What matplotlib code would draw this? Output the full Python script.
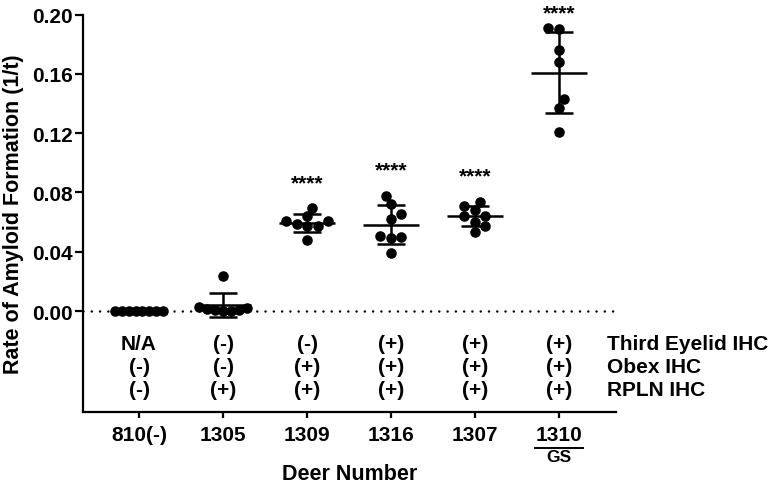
import numpy as np
import matplotlib
matplotlib.use("Agg")
import matplotlib.pyplot as plt
from matplotlib.transforms import blended_transform_factory

plt.rcParams["font.family"] = ["Liberation Sans", "DejaVu Sans"]
plt.rcParams["font.weight"] = "bold"

# data
deer = ["810(-)", "1305", "1309", "1316", "1307", "1310"]
rate_810 = [0, 0, 0, 0, 0, 0, 0, 0]
rate_1305 = [0.0, 0.001, 0.0015, 0.002, 0.0, 0.001, 0.0025, 0.0236]
rate_1309 = [0.0695, 0.0576, 0.0607, 0.0587, 0.0607, 0.0641, 0.0574, 0.0479]
rate_1316 = [0.0778, 0.0722, 0.0655, 0.0621, 0.0508, 0.0493, 0.0499, 0.0389]
rate_1307 = [0.0738, 0.0711, 0.0684, 0.0643, 0.0643, 0.0603, 0.0576, 0.0531]
rate_1310 = [0.190, 0.191, 0.176, 0.168, 0.143, 0.137, 0.121]
groups = [rate_810, rate_1305, rate_1309, rate_1316, rate_1307, rate_1310]
signif = ["", "", "****", "****", "****", "****"]

row_names = ["Third Eyelid IHC", "Obex IHC", "RPLN IHC"]
third_eyelid = ["N/A", "(-)", "(-)", "(+)", "(+)", "(+)"]
obex = ["(-)", "(-)", "(+)", "(+)", "(+)", "(+)"]
rpln = ["(-)", "(+)", "(+)", "(+)", "(+)", "(+)"]
rows = [third_eyelid, obex, rpln]
row_y = [-0.022, -0.0375, -0.0525]

yticks = [0.00, 0.04, 0.08, 0.12, 0.16, 0.20]

W, H = 774, 489
fig = plt.figure(figsize=(W / 100, H / 100), dpi=100)
ax_l, ax_r, ax_t, ax_b = 83, 616, 15.5, 413
ax = fig.add_axes([ax_l / W, 1 - ax_b / H, (ax_r - ax_l) / W, (ax_b - ax_t) / H])
ymin, ymax = -0.068, 0.20
xmin, xmax = -0.667, 5.679
ax.set_xlim(xmin, xmax)
ax.set_ylim(ymin, ymax)

px_per_y = (ax_b - ax_t) / (ymax - ymin)
px_per_x = (ax_r - ax_l) / (xmax - xmin)
dot = 10.5  # marker diameter in px


def swarm(vals, limit=24.0):
    # greedy beeswarm in pixel space, lowest values first
    order = np.argsort(vals, kind="stable")
    ypx = np.array(vals) * px_per_y
    placed = []
    offs = np.zeros(len(vals))
    md = dot * 0.85
    for i in order:
        for k in range(0, 40):
            if k == 0:
                cands = [0.0]
            else:
                side = -1 if sum(p[0] for p in placed) > 0 else 1
                cands = [side * k * dot / 2, -side * k * dot / 2]
            ok = None
            for c in cands:
                if all(np.hypot(c - px, ypx[i] - py) >= md for px, py in placed):
                    ok = c
                    break
            if ok is not None:
                offs[i] = ok
                placed.append((ok, ypx[i]))
                break
    if np.abs(offs).max() > limit:
        offs = offs - (offs.min() + offs.max()) / 2
        offs = offs * limit / np.abs(offs).max()
    return offs / px_per_x


for i, vals in enumerate(groups):
    vals = np.array(vals, dtype=float)
    xs = i + swarm(vals)
    ax.scatter(xs, vals, s=7.6 ** 2, color="black", zorder=3, linewidths=0)
    m = vals.mean()
    sd = vals.std(ddof=1)
    ax.hlines(m, i - 0.333, i + 0.333, color="black", lw=1.8, zorder=4)
    if sd > 0:
        ax.errorbar(i, m, yerr=sd, fmt="none", ecolor="black", elinewidth=1.8,
                    capsize=10, capthick=1.8, zorder=4)
    if signif[i]:
        ys = min(vals.max() + 0.0135, 0.1975)
        ax.text(i, ys, signif[i], ha="center", va="baseline",
                fontsize=15, fontweight="bold", clip_on=False)

ax.axhline(0, color="black", lw=1.8, ls=(0, (0.01, 3.3)), dash_capstyle="round",
           zorder=1)

# IHC rows below the zero line
for r, labels in enumerate(rows):
    for i, lab in enumerate(labels):
        ax.text(i, row_y[r], lab, ha="center", va="center", fontsize=15,
                fontweight="bold")
    ax.text(5.571, row_y[r], row_names[r], ha="left", va="center", fontsize=15,
            fontweight="bold", clip_on=False)

ax.spines["top"].set_visible(False)
ax.spines["right"].set_visible(False)
ax.spines["left"].set_linewidth(1.6)
ax.spines["bottom"].set_linewidth(1.6)
ax.spines["left"].set_bounds(ymin, 0.20)

ax.set_yticks(yticks)
ax.set_yticklabels([f"{v:.2f}" for v in yticks], fontsize=15, fontweight="bold")
ax.set_xticks(range(len(deer)))
ax.set_xticklabels(deer, fontsize=15, fontweight="bold")
ax.tick_params(axis="y", length=5.8, width=1.6, pad=1.5)
ax.tick_params(axis="x", length=4.5, width=1.6, pad=5)

ax.set_ylabel("Rate of Amyloid Formation (1/t)", fontsize=15.5, fontweight="bold",
              labelpad=6)

# GS under 1310
tr = blended_transform_factory(ax.transData, ax.transAxes)
ul_y = -(449 - ax_b) / (ax_b - ax_t)
ax.plot([5 - 0.29, 5 + 0.29], [ul_y, ul_y], color="black", lw=1.4,
        transform=tr, clip_on=False)
ax.text(5, -(458 - ax_b) / (ax_b - ax_t), "GS", transform=tr, ha="center",
        va="center", fontsize=12.5, fontweight="bold")

ax.text(0.5, -(475 - ax_b) / (ax_b - ax_t), "Deer Number", transform=ax.transAxes,
        ha="center", va="center", fontsize=15.5, fontweight="bold")

fig.savefig("out.png", dpi=100)
